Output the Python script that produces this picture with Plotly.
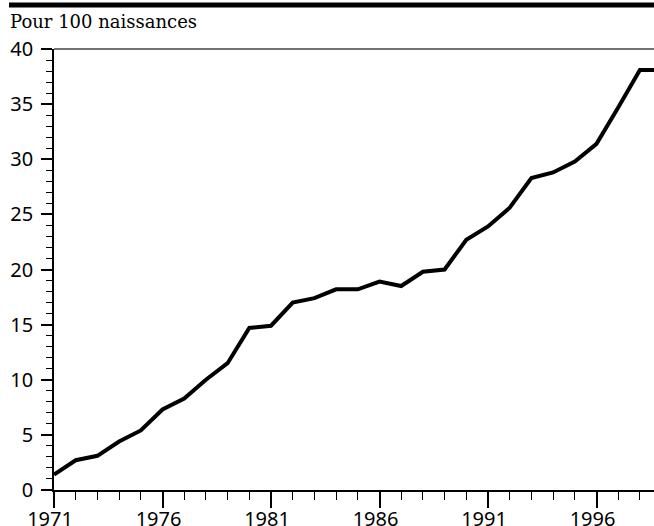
import plotly.graph_objects as go

years = list(range(1971, 2000))
values = [1.4, 2.7, 3.1, 4.4, 5.4, 7.3, 8.3, 10.0, 11.5, 14.7,
          14.9, 17.0, 17.4, 18.2, 18.2, 18.9, 18.5, 19.8, 20.0, 22.7,
          23.9, 25.6, 28.3, 28.8, 29.8, 31.4, 34.7, 38.1, 38.1]
title_text = "Pour 100 naissances"

W, H = 654, 526
L, R, T, B = 54, 0, 49, 36
plot_h = H - T - B
plot_w = W - L - R

fig = go.Figure(go.Scatter(x=years, y=values, mode="lines",
                           line=dict(color="black", width=4),
                           cliponaxis=True, hoverinfo="skip"))

tickfont = dict(family="Noto Sans", size=20, color="black")

fig.update_layout(
    width=W, height=H,
    margin=dict(l=L, r=R, t=T, b=B, pad=0, autoexpand=False),
    paper_bgcolor="white", plot_bgcolor="white",
    showlegend=False,
    xaxis=dict(range=[1971, 1971 + plot_w / 21.7], showgrid=False, zeroline=False,
               automargin=False,
               showline=True, linecolor="black", linewidth=1.5,
               tickmode="linear", tick0=1971, dtick=5,
               ticks="outside", ticklen=16, tickwidth=2, tickcolor="black",
               ticklabelstandoff=-6, ticklabelshift=-4,
               tickfont=tickfont,
               minor=dict(tickmode="linear", tick0=1971, dtick=1, ticks="outside",
                          ticklen=8, tickwidth=1, tickcolor="black", showgrid=False)),
    yaxis=dict(range=[0, 40], showgrid=False, zeroline=False,
               automargin=False,
               showline=True, linecolor="black", linewidth=1.5,
               tickmode="linear", tick0=0, dtick=5,
               ticks="outside", ticklen=11, tickwidth=1.5, tickcolor="black",
               ticklabelstandoff=4,
               tickfont=tickfont,
               minor=dict(tickmode="linear", tick0=0, dtick=1, ticks="outside",
                          ticklen=6, tickwidth=1, tickcolor="black", showgrid=False)),
)

# top frame line of the plot area
fig.add_shape(type="line", xref="paper", yref="paper", x0=0, x1=1, y0=1, y1=1,
              line=dict(color="#444", width=1.5))
# thick bar at the very top (5 px below the figure top)
ybar = (plot_h + T - 5) / plot_h
fig.add_shape(type="line", xref="paper", yref="paper", x0=(9 - L) / plot_w, x1=1,
              y0=ybar, y1=ybar, line=dict(color="black", width=5))

fig.add_annotation(text=title_text, xref="paper", yref="paper",
                   x=(8 - L) / plot_w, y=(plot_h + T - 22) / plot_h,
                   xanchor="left", yanchor="middle", showarrow=False,
                   font=dict(family="DejaVu Serif", size=18, color="black"))

fig.write_html("out.html", config={"displayModeBar": False},
               post_script="document.body.style.margin='0';")
